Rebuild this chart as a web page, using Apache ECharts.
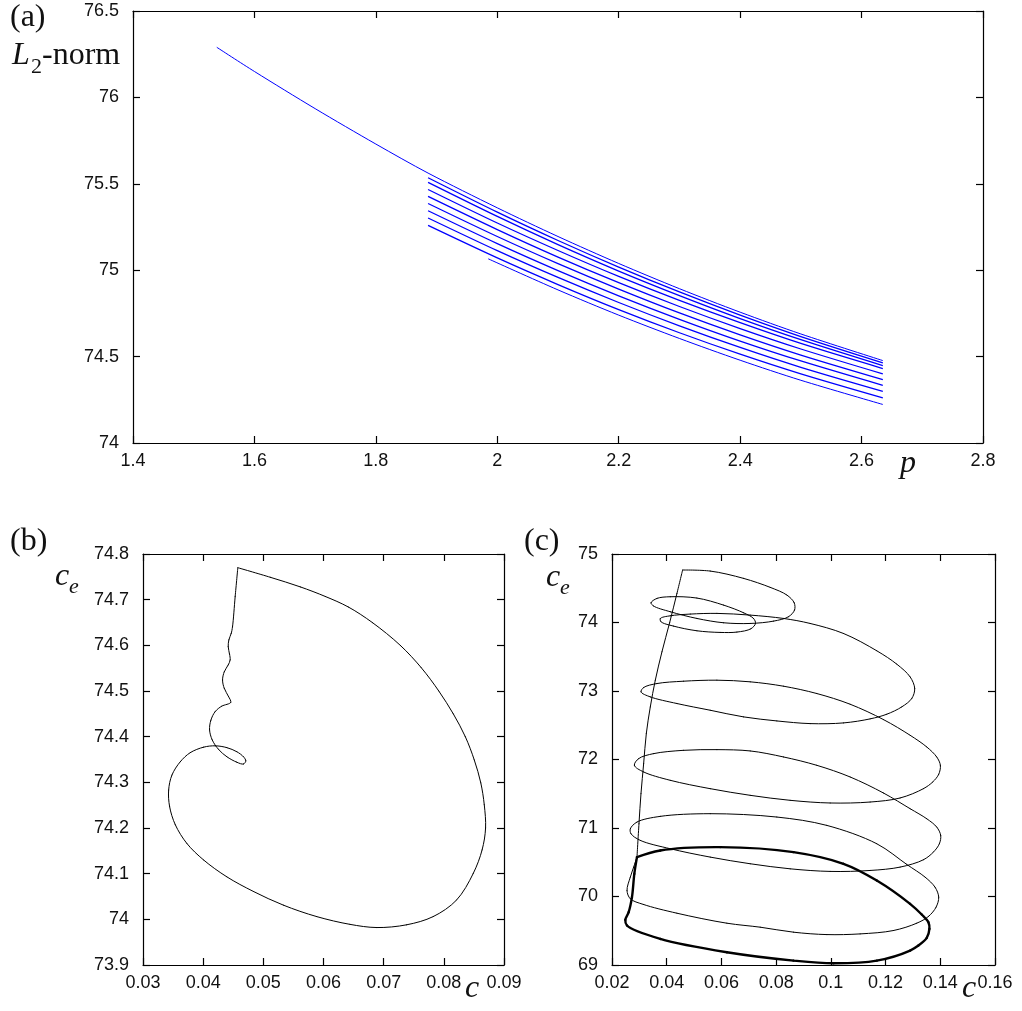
<!DOCTYPE html>
<html><head><meta charset="utf-8">
<script src="https://cdn.jsdelivr.net/npm/echarts@6/dist/echarts.min.js"></script>
<style>html,body{margin:0;padding:0;background:#fff}#chart{width:1022px;height:1011px}</style>
</head><body><div id="chart"></div>
<script>
// ---------- Panel (a): L2-norm vs p ----------
const pMain   = [1.538, 1.6, 1.7, 1.8, 1.886, 2.0, 2.1, 2.2, 2.3, 2.4, 2.5, 2.635];
const l2Main  = [76.29, 76.150, 75.935, 75.730, 75.562, 75.361, 75.195, 75.039, 74.893, 74.757, 74.631, 74.477];
const pBranch = [1.886, 2.0, 2.1, 2.2, 2.3, 2.4, 2.5, 2.635];
const l2Branch1 = [75.535, 75.336, 75.172, 75.018, 74.874, 74.740, 74.616, 74.464];
const l2Branch2 = [75.508, 75.311, 75.148, 74.995, 74.853, 74.720, 74.598, 74.448];
const l2Branch3 = [75.467, 75.273, 75.114, 74.964, 74.825, 74.696, 74.576, 74.431];
const l2Branch4 = [75.427, 75.235, 75.076, 74.928, 74.790, 74.662, 74.544, 74.400];
const l2Branch5 = [75.386, 75.195, 75.038, 74.891, 74.753, 74.626, 74.509, 74.367];
const l2Branch6 = [75.344, 75.154, 74.998, 74.852, 74.716, 74.590, 74.475, 74.334];
const l2Branch7 = [75.302, 75.113, 74.958, 74.813, 74.678, 74.553, 74.438, 74.299];
const l2Branch8 = [75.259, 75.071, 74.917, 74.772, 74.638, 74.514, 74.400, 74.261];
const pLow  = [1.985, 2.1, 2.2, 2.3, 2.4, 2.5, 2.635];
const l2Low = [75.066, 74.886, 74.740, 74.605, 74.479, 74.363, 74.223];

// ---------- Panel (b): c_e vs c ----------
const cB = [0.04576,0.04532,0.04488,0.04466,0.04427,0.04416,0.04438,0.04449,0.04416,0.04350,
  0.04322,0.04350,0.04421,0.04460,0.04311,0.04200,0.04128,0.04106,0.04150,0.04256,
  0.04394,0.04560,0.04670,0.04709,0.04670,0.04560,0.04394,0.04200,0.04007,0.03785,
  0.03619,0.03481,0.03426,0.03442,0.03537,0.03730,0.04007,0.04394,0.04836,0.05334,
  0.05887,0.06440,0.06883,0.07381,0.07823,0.08210,0.08487,0.08636,0.08694,0.08672,
  0.08614,0.08506,0.08357,0.08157,0.07916,0.07625,0.07276,0.06811,0.06412,0.06030,
  0.05614,0.05116,0.04576];
const ceB = [74.770,74.707,74.641,74.626,74.612,74.597,74.581,74.568,74.557,74.542,
  74.524,74.506,74.488,74.475,74.467,74.455,74.436,74.415,74.393,74.372,
  74.356,74.344,74.340,74.347,74.356,74.367,74.376,74.380,74.377,74.365,
  74.345,74.316,74.283,74.247,74.207,74.166,74.130,74.093,74.061,74.031,
  74.006,73.989,73.982,73.988,74.006,74.042,74.100,74.152,74.200,74.251,
  74.299,74.349,74.400,74.450,74.500,74.551,74.600,74.650,74.684,74.707,
  74.728,74.749,74.770];

// ---------- Panel (c): c_e vs c ----------
// fast rise from the cycle to the top corner
const cRise  = [0.02913,0.02986,0.03059,0.03157,0.03254,0.03400,0.03583,0.03826,0.04106,0.04374,0.04581];
const ceRise = [70.575,71.062,71.501,71.940,72.378,72.768,73.158,73.572,73.996,74.425,74.766];
// spiral down from the top corner back to the cycle
const cSpiral = [0.04581,0.05591,0.06809,0.07783,0.08392,0.08659,0.08672,0.08452,0.07905,0.07052,
  0.06078,0.05104,0.04131,0.03522,0.03424,0.03644,0.04131,0.05104,0.06078,0.06809,
  0.07174,0.07247,0.07077,0.06565,0.05957,0.05104,0.04252,0.03790,0.03765,0.04131,
  0.04861,0.05835,0.07052,0.08270,0.09244,0.10461,0.11679,0.12409,0.12896,0.13066,
  0.12957,0.12592,0.12044,0.11435,0.10461,0.09244,0.08026,0.06809,0.05591,0.04374,
  0.03400,0.03059,0.03157,0.03644,0.04617,0.05835,0.07052,0.08270,0.09487,0.10705,
  0.11922,0.12896,0.13505,0.13870,0.14004,0.13943,0.13724,0.13383,0.12531,0.11435,
  0.09974,0.08513,0.07052,0.05591,0.04131,0.03157,0.02816,0.02974,0.03522,0.04617,
  0.05835,0.07052,0.08270,0.09487,0.10705,0.11922,0.12896,0.13505,0.13870,0.14016,
  0.13967,0.13748,0.13383,0.12531,0.11435,0.09974,0.08513,0.07052,0.05591,0.04131,
  0.03035,0.02694,0.02670,0.02913,0.03765,0.05591,0.08026,0.09852,0.11679,0.12774,
  0.13444,0.13809,0.13943,0.13846,0.13566,0.13139,0.12287,0.11070,0.09852,0.08635,
  0.07418,0.06200,0.04374,0.03157,0.02670,0.02548,0.02670,0.02791,0.02913];
const ceSpiral = [74.766,74.751,74.644,74.513,74.401,74.289,74.181,74.084,74.020,73.986,
  73.996,74.059,74.157,74.240,74.288,74.352,74.376,74.357,74.254,74.142,
  74.059,73.986,73.908,73.860,73.855,73.879,73.947,74.011,74.059,74.098,
  74.123,74.133,74.108,74.059,73.986,73.840,73.587,73.392,73.207,73.036,
  72.890,72.768,72.661,72.593,72.534,72.524,72.563,72.622,72.719,72.817,
  72.914,72.987,73.051,73.109,73.143,73.158,73.134,73.070,72.963,72.807,
  72.583,72.354,72.183,72.037,71.915,71.784,71.672,71.574,71.438,71.379,
  71.365,71.404,71.477,71.574,71.696,71.818,71.915,72.013,72.086,72.134,
  72.144,72.125,72.037,71.915,71.745,71.511,71.282,71.135,71.014,70.892,
  70.770,70.648,70.536,70.429,70.380,70.366,70.404,70.478,70.575,70.697,
  70.819,70.916,70.989,71.087,71.170,71.209,71.160,71.038,70.770,70.468,
  70.283,70.136,69.990,69.844,69.708,69.610,69.503,69.454,69.444,69.479,
  69.552,69.610,69.756,69.883,69.966,70.088,70.283,70.429,70.575];
// limit cycle (drawn thick)
const cCycle  = [0.02913,0.03765,0.05957,0.08635,0.10461,0.11679,0.12896,0.13322,0.13566,0.13602,0.13505,
  0.13200,0.12896,0.11679,0.10096,0.08635,0.06200,0.03765,0.02548,0.02487,0.02609,0.02730,0.02816,0.02913];
const ceCycle = [70.575,70.672,70.721,70.648,70.478,70.234,69.893,69.737,69.625,69.527,69.396,
  69.284,69.211,69.064,69.025,69.064,69.186,69.381,69.576,69.659,69.771,69.990,70.331,70.575];

const zip = (a, b) => a.map((v, i) => [v, b[i]]);
const fmt = v => String(Math.round(v * 1000) / 1000);

const AX = {color: '#000', width: 1.2};
function xAx(gi, min, max, interval, pos, labels) {
  return {type: 'value', gridIndex: gi, min, max, interval, position: pos,
    axisLine: {show: true, onZero: false, lineStyle: AX},
    axisTick: {show: true, inside: true, length: 7, lineStyle: AX},
    axisLabel: {show: labels, color: '#111', fontFamily: 'Liberation Sans', fontSize: 18, margin: 9, formatter: fmt,
      showMinLabel: true, showMaxLabel: true},
    splitLine: {show: false}};
}
function yAx(gi, min, max, interval, pos, labels) {
  return {type: 'value', gridIndex: gi, min, max, interval, position: pos,
    axisLine: {show: true, onZero: false, lineStyle: AX},
    axisTick: {show: true, inside: true, length: 7, lineStyle: AX},
    axisLabel: {show: labels, color: '#111', fontFamily: 'Liberation Sans', fontSize: 18, margin: 14, formatter: fmt,
      showMinLabel: true, showMaxLabel: true},
    splitLine: {show: false}};
}
function line(xi, yi, data, color, width) {
  return {type: 'line', xAxisIndex: xi, yAxisIndex: yi, data, showSymbol: false, symbol: 'none',
    smooth: 0.3, lineStyle: {color, width}, animation: false, clip: true, silent: true};
}
// smooth curve through traced points (centripetal Catmull-Rom), positions via the axes' scales
function curve(xi, yi, xs, ys, color, width) {
  const pts = zip(xs, ys);
  const n = pts.length;
  return {type: 'custom', coordinateSystem: 'cartesian2d', xAxisIndex: xi, yAxisIndex: yi,
    data: pts, encode: {x: 0, y: 1}, silent: true, animation: false, clip: true,
    renderItem(params, api) {
      const i = params.dataIndex;
      if (i >= n - 1) return null;
      const P = k => api.coord(pts[Math.max(0, Math.min(n - 1, k))]);
      const p0 = P(i - 1), p1 = P(i), p2 = P(i + 1), p3 = P(i + 2);
      const dist = (a, b) => Math.hypot(a[0] - b[0], a[1] - b[1]);
      const t1 = Math.sqrt(dist(p0, p1)), t2 = Math.sqrt(dist(p1, p2)), t3 = Math.sqrt(dist(p2, p3));
      let b1 = p1, b2 = p2;
      if (t1 > 1e-6 && t2 > 1e-6) {
        const a = t1 * t1, b = t2 * t2, c = 2 * a + 3 * t1 * t2 + b, m = 3 * t1 * (t1 + t2);
        b1 = [(a * p2[0] - b * p0[0] + c * p1[0]) / m, (a * p2[1] - b * p0[1] + c * p1[1]) / m];
      }
      if (t3 > 1e-6 && t2 > 1e-6) {
        const a = t3 * t3, b = t2 * t2, c = 2 * a + 3 * t3 * t2 + b, m = 3 * t3 * (t3 + t2);
        b2 = [(a * p1[0] - b * p3[0] + c * p2[0]) / m, (a * p1[1] - b * p3[1] + c * p2[1]) / m];
      }
      return {type: 'bezierCurve',
        shape: {x1: p1[0], y1: p1[1], x2: p2[0], y2: p2[1], cpx1: b1[0], cpy1: b1[1], cpx2: b2[0], cpy2: b2[1]},
        style: {stroke: color, lineWidth: width, fill: null, lineCap: 'round'}};
    }};
}

const BLUE = '#0000ff';
const series = [
  line(0, 0, zip(pMain, l2Main), BLUE, 1),
  line(0, 0, zip(pBranch, l2Branch1), BLUE, 1.3),
  line(0, 0, zip(pBranch, l2Branch2), BLUE, 1.3),
  line(0, 0, zip(pBranch, l2Branch3), BLUE, 1.3),
  line(0, 0, zip(pBranch, l2Branch4), BLUE, 1.3),
  line(0, 0, zip(pBranch, l2Branch5), BLUE, 1.3),
  line(0, 0, zip(pBranch, l2Branch6), BLUE, 1.3),
  line(0, 0, zip(pBranch, l2Branch7), BLUE, 1.3),
  line(0, 0, zip(pBranch, l2Branch8), BLUE, 1.3),
  line(0, 0, zip(pLow, l2Low), BLUE, 1),
  curve(2, 2, cB, ceB, '#000', 1),
  curve(4, 4, cRise, ceRise, '#000', 1),
  curve(4, 4, cSpiral, ceSpiral, '#000', 1),
  curve(4, 4, cCycle, ceCycle, '#000', 2.4)
];

const serif = 'Liberation Serif';
function txt(x, y, text, size, italic, align) {
  return {type: 'text', x, y, silent: true,
    style: {text, fill: '#111', font: (italic ? 'italic ' : '') + size + 'px "' + serif + '"',
      align: align || 'left', verticalAlign: 'middle'}};
}

const option = {
  backgroundColor: '#fff',
  animation: false,
  grid: [
    {left: 133, top: 11, width: 850, height: 432},
    {left: 143, top: 554, width: 361, height: 411},
    {left: 612, top: 554, width: 383, height: 411}
  ],
  xAxis: [
    xAx(0, 1.4, 2.8, 0.2, 'bottom', true), xAx(0, 1.4, 2.8, 0.2, 'top', false),
    xAx(1, 0.03, 0.09, 0.01, 'bottom', true), xAx(1, 0.03, 0.09, 0.01, 'top', false),
    xAx(2, 0.02, 0.16, 0.02, 'bottom', true), xAx(2, 0.02, 0.16, 0.02, 'top', false)
  ],
  yAxis: [
    yAx(0, 74, 76.5, 0.5, 'left', true), yAx(0, 74, 76.5, 0.5, 'right', false),
    yAx(1, 73.9, 74.8, 0.1, 'left', true), yAx(1, 73.9, 74.8, 0.1, 'right', false),
    yAx(2, 69, 75, 1, 'left', true), yAx(2, 69, 75, 1, 'right', false)
  ],
  series,
  graphic: [
    txt(10, 18, '(a)', 32, false),
    txt(12, 56, 'L', 32, true),
    txt(31, 67, '2', 22, false),
    txt(42, 56, '-norm', 32, false),
    txt(908, 464, 'p', 32, true, 'center'),
    txt(10, 542, '(b)', 32, false),
    txt(55, 577, 'c', 32, true),
    txt(69, 587, 'e', 22, true),
    txt(472, 989, 'c', 32, true, 'center'),
    txt(524, 542, '(c)', 32, false),
    txt(546, 578, 'c', 32, true),
    txt(560, 588, 'e', 22, true),
    txt(969, 989, 'c', 32, true, 'center')
  ]
};
const chart = echarts.init(document.getElementById('chart'), null, {renderer: 'canvas', width: 1022, height: 1011});
chart.setOption(option);
</script>
</body></html>
